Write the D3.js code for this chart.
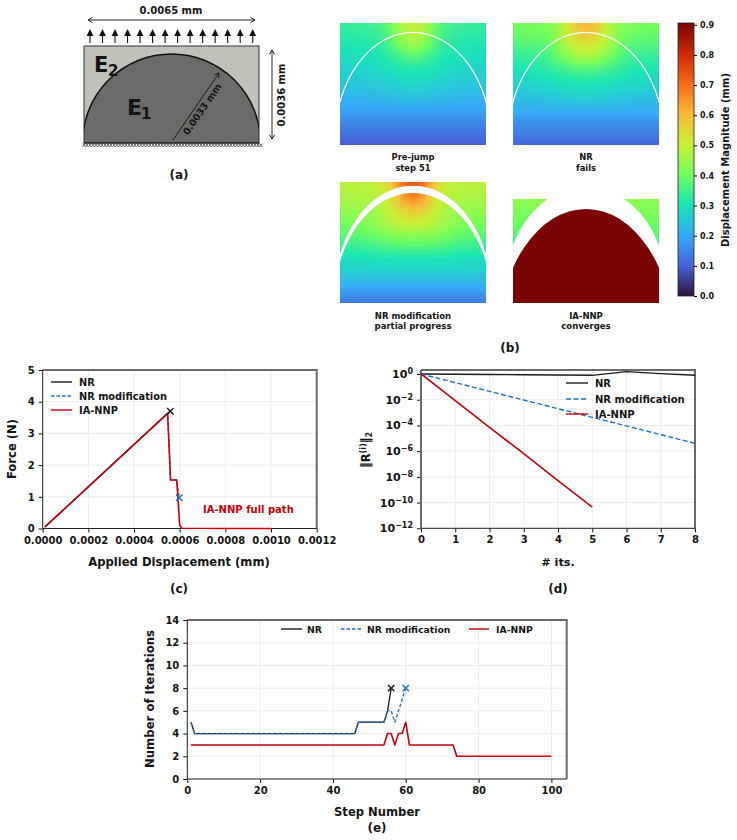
<!DOCTYPE html>
<html><head><meta charset="utf-8">
<script src="https://cdn.jsdelivr.net/npm/d3@7"></script>
<style>
html,body{margin:0;padding:0;background:#fff}
svg{display:block}
text{font-family:"DejaVu Sans",sans-serif;font-weight:700;fill:#141414}
</style></head><body>
<svg id="fig" width="737" height="840"></svg>
<script>
// Force against applied displacement (panel c)
const fdDisp  = [0.00001,0.000547,0.00056,0.000587,0.000600,0.00061,0.0010];
const fdForce = [0.05,3.63,1.53,1.53,0.10,0.01,0];
const fdNrDisp = [0.00001,0.000547,0.000559];
const fdNrForce = [0.05,3.63,3.70];
const fdModDisp = [0.00001,0.000547,0.00056,0.000587,0.000598];
const fdModForce = [0.05,3.63,1.53,1.53,0.97];
const fdNrEnd = [0.000559,3.70];
const fdModEnd = [0.000598,0.97];

// Residual norm per iteration, as log10 (panel d)
const itsNr = [0,1,2,3,4,5,6,7,8];
const resNr = [0,-0.02,-0.04,-0.06,-0.08,-0.10,0.18,0.03,-0.10];
const itsMod = [0,1,2,3,4,5,6,7,8];
const resMod = [0,-0.67,-1.35,-2.02,-2.70,-3.37,-4.04,-4.72,-5.39];
const itsIa = [0,1,2,3,4,5];
const resIa = [0,-2.07,-4.15,-6.20,-8.30,-10.36];

// Iterations per load step (panel e), listed at the steps where the count changes
const stepNr = [1,2,46,47,54,55,56];
const iterNr = [5,4,4,5,5,6,8];
const stepMod = [1,2,46,47,54,55,56,57,58,59,60];
const iterMod = [5,4,4,5,5,6,6,5,6,7,8];
const stepIa = [1,54,55,56,57,58,59,60,61,73,74,100];
const iterIa = [3,3,4,4,3,4,4,5,3,3,2,2];

// Displacement fields, sampled every 11 px downwards and 10.4 px from the centre line.
// A row with a single value is uniform across the width.
const fieldPreJump = [
 [.50,.48,.41,.36,.345,.34,.335,.335],
 [.49,.46,.39,.345,.33,.325,.32,.32],
 [.45,.42,.37,.33,.315,.31,.305,.305],
 [.38,.36,.33,.31,.30,.295,.29,.29],
 [.32,.315,.305,.295,.285,.28,.275,.275],
 [.29,.285,.28,.27,.265,.26,.26,.26],
 [.265,.26,.255,.25,.245,.24,.24,.24],
 [.235,.235,.23,.225,.22,.215,.215,.215],
 [.19],[.155],[.125],[.095]];
const fieldNrFail = [
 [.61,.58,.50,.44,.42,.415,.41,.41],
 [.58,.555,.49,.43,.40,.395,.39,.39],
 [.53,.51,.47,.41,.375,.37,.365,.36],
 [.47,.46,.42,.38,.35,.34,.335,.33],
 [.38,.375,.36,.34,.325,.315,.31,.31],
 [.325,.32,.315,.305,.295,.29,.285,.285],
 [.29,.285,.28,.275,.27,.265,.26,.26],
 [.255,.255,.25,.245,.24,.235,.235,.235],
 [.21],[.17],[.14],[.105]];
const fieldNrMod = [
 [.74,.70,.60,.52,.49,.49,.49,.49],
 [.70,.66,.55,.49,.48,.48,.47,.47],
 [.63,.60,.53,.48,.46,.46,.46,.46],
 [.55,.53,.50,.47,.445,.44,.43,.43],
 [.49,.485,.47,.45,.425,.41,.40,.40],
 [.42,.42,.415,.40,.385,.375,.37,.37],
 [.36,.36,.355,.35,.34,.335,.33,.33],
 [.30,.30,.30,.30,.295,.29,.29,.29],
 [.27],[.23],[.18],[.13]];
const fieldIaCorners = [[.435],[.42],[.40],[.38],[.355]];
const fieldIaInclusion = .906;

// Colour bar
const barTicks = [0,.1,.2,.3,.4,.5,.6,.7,.8,.9];
const barMax = .906;
const turboStops = ["#30123b","#4662d7","#36aaf9","#1ae4b6","#72fe5e","#c8ef34","#faba39","#f66b19","#cb2a04","#7a0403"];

const svg = d3.select("#fig");
const colour = d3.scaleSequential(d3.piecewise(d3.interpolateRgb,turboStops)).domain([0,barMax]);
const black="#1c1c1c", blue="#1f6fc0", red="#c8000a";

function label(g,x,y,str,size,opts={}){
  const t=g.append("text").attr("x",x).attr("y",y).attr("font-size",size)
    .attr("text-anchor",opts.anchor||"middle").text(str);
  if(opts.rotate!==undefined) t.attr("transform",`rotate(${opts.rotate},${x},${y})`);
  if(opts.fill) t.style("fill",opts.fill);
  return t;
}

/* ---------- (a) specimen sketch ---------- */
const a=svg.append("g");
const rectA={x:84,y:46,w:175,h:97};
svg.append("defs").append("clipPath").attr("id","specimen").append("rect")
  .attr("x",rectA.x).attr("y",rectA.y).attr("width",rectA.w).attr("height",rectA.h);
a.append("rect").attr("x",rectA.x).attr("y",rectA.y).attr("width",rectA.w).attr("height",rectA.h)
  .attr("fill","#c0c1b9");
a.append("circle").attr("cx",171.5).attr("cy",143).attr("r",89).attr("clip-path","url(#specimen)")
  .attr("fill","#6b6b69").attr("stroke","#111").attr("stroke-width",1.5);
a.append("rect").attr("x",rectA.x).attr("y",rectA.y).attr("width",rectA.w).attr("height",rectA.h)
  .attr("fill","none").attr("stroke","#333").attr("stroke-width",1);
a.append("line").attr("x1",84).attr("x2",259).attr("y1",143).attr("y2",143).attr("stroke","#111").attr("stroke-width",1.2);
// roller support along the bottom edge
const supportX=d3.scaleLinear().domain([0,59]).range([84,261]);
a.append("path").attr("fill","none").attr("stroke","#222").attr("stroke-width",.7)
  .attr("d",d3.range(60).map(i=>{const x=supportX(i);return `M${x-1.5},143.5L${x+1.5},147M${x-1.5},147L${x+1.5},143.5`}).join(""));
// traction arrows
const tractionX=d3.scaleLinear().domain([0,13]).range([90,252.7]);
d3.range(14).forEach(i=>{
  const x=tractionX(i);
  a.append("line").attr("x1",x).attr("x2",x).attr("y1",43).attr("y2",34).attr("stroke","#111").attr("stroke-width",1.1);
  a.append("path").attr("d",`M${x},29L${x+3.4},36L${x-3.4},36Z`).attr("fill","#111");
});
function openHead(g,x,y,ang,s=4.5){
  const r=ang*Math.PI/180, d=(u,v)=>[x+u*Math.cos(r)-v*Math.sin(r),y+u*Math.sin(r)+v*Math.cos(r)];
  const p=d(-s,-s*.6),q=d(-s,s*.6);
  g.append("path").attr("d",`M${p}L${x},${y}L${q}`).attr("fill","none").attr("stroke","#111").attr("stroke-width",.9);
}
function dim(g,x1,y1,x2,y2,both=true){
  g.append("line").attr("x1",x1).attr("y1",y1).attr("x2",x2).attr("y2",y2).attr("stroke","#111").attr("stroke-width",.9);
  const ang=Math.atan2(y2-y1,x2-x1)*180/Math.PI;
  openHead(g,x2,y2,ang);
  if(both) openHead(g,x1,y1,ang+180);
}
dim(a,88,20,255,20);
label(a,171,14,"0.0065 mm",10);
dim(a,272,50,272,139);
label(a,285,95,"0.0036 mm",10,{rotate:-90});
dim(a,173,140,219,73,false);
label(a,205,111,"0.0033 mm",9.5,{rotate:-55.5});
label(a,94,72,"E",21,{anchor:"start"});
label(a,108,76,"2",15,{anchor:"start"});
label(a,127,115,"E",22,{anchor:"start"});
label(a,141,119,"1",15,{anchor:"start"});
label(a,179,179,"(a)",12);

/* ---------- (b) displacement fields ---------- */
const b=svg.append("g");
const defs=svg.select("defs");
const cols=8, colStep=73/7, rowStep=11;
function fieldValue(grid,dx,dy){
  const rf=Math.min(dy/rowStep,grid.length-1.001), r0=Math.floor(rf), t=rf-r0;
  const at=(row)=>{
    if(row.length===1) return row[0];
    const cf=Math.min(dx/colStep,cols-1.001), c0=Math.floor(cf);
    return row[c0]+(row[c0+1]-row[c0])*(cf-c0);
  };
  return at(grid[r0])*(1-t)+at(grid[r0+1])*t;
}
function drawField(g,grid,x,y,w,h){
  const c=document.createElement("canvas"); c.width=w; c.height=h;
  const ctx=c.getContext("2d");
  for(let j=0;j<h;j++) for(let i=0;i<w;i++){
    ctx.fillStyle=colour(fieldValue(grid,Math.abs(i+.5-w/2),j+.5));
    ctx.fillRect(i,j,1,1);
  }
  g.append("image").attr("x",x).attr("y",y).attr("width",w).attr("height",h).attr("href",c.toDataURL());
}
function clip(id,x,y,w,h){
  defs.append("clipPath").attr("id",id).append("rect").attr("x",x).attr("y",y).attr("width",w).attr("height",h);
}
const cx1=413,cx2=586;
// pre-jump and NR: interface still closed, drawn as a thin white curve
[[fieldPreJump,340,cx1,"clipA"],[fieldNrFail,513,cx2,"clipB"]].forEach(([f,x,cx,id])=>{
  drawField(b,f,x,23,146,122);
  clip(id,x,23,146,122);
  b.append("ellipse").attr("cx",cx).attr("cy",32.3+108.7).attr("rx",78.3).attr("ry",108.7)
    .attr("clip-path",`url(#${id})`).attr("fill","none").attr("stroke","#fff").attr("stroke-width",1.2);
});
// NR modification: the gap opens into a white band
drawField(b,fieldNrMod,340,182,146,121);
clip("clipC",340,182,146,121);
defs.append("clipPath").attr("id","bandInner").append("ellipse").attr("cx",cx1).attr("cy",193+112).attr("rx",79).attr("ry",112);
b.append("ellipse").attr("cx",cx1).attr("cy",185.7+110.5).attr("rx",79).attr("ry",110.5).attr("clip-path","url(#clipC)").attr("fill","#fff");
const innerWrap=b.append("g").attr("clip-path","url(#clipC)").append("g").attr("clip-path","url(#bandInner)");
drawField(innerWrap,fieldNrMod,340,182,146,121);
// IA-NNP: full opening
drawField(b,fieldIaCorners,513,199,146,49);
clip("clipD",513,199,146,104);
clip("clipE",513,180,146,123);
b.append("ellipse").attr("cx",cx2).attr("cy",187+99).attr("rx",80).attr("ry",99).attr("clip-path","url(#clipE)").attr("fill","#fff");
b.append("ellipse").attr("cx",cx2).attr("cy",209+133).attr("rx",88).attr("ry",133).attr("clip-path","url(#clipD)").attr("fill",colour(fieldIaInclusion));

label(b,413,160,"Pre-jump",8.4);label(b,413,171,"step 51",8.4);
label(b,586,160,"NR",8.4);label(b,586,171,"fails",8.4);
label(b,413,319,"NR modification",8.5);label(b,413,329,"partial progress",8.5);
label(b,586,319,"IA-NNP",8.5);label(b,586,329,"converges",8.5);
label(b,510,352,"(b)",12);

// colour bar
const barScale=d3.scaleLinear().domain([0,barMax]).range([296,23]);
const barCanvas=document.createElement("canvas"); barCanvas.width=1; barCanvas.height=273;
{const ctx=barCanvas.getContext("2d");
 for(let j=0;j<273;j++){ctx.fillStyle=colour(barScale.invert(23+j+.5));ctx.fillRect(0,j,1,1);}}
b.append("image").attr("x",678).attr("y",23).attr("width",16).attr("height",273)
  .attr("preserveAspectRatio","none").attr("href",barCanvas.toDataURL());
b.append("rect").attr("x",678).attr("y",23).attr("width",16).attr("height",273).attr("fill","none").attr("stroke","#222").attr("stroke-width",.8);
const barAxis=b.append("g").attr("transform","translate(694,0)")
  .call(d3.axisRight(barScale).tickValues(barTicks).tickFormat(d3.format(".1f")).tickSize(3).tickPadding(3));
barAxis.select(".domain").remove();
barAxis.selectAll("text").attr("font-size",8);
label(b,729,160,"Displacement Magnitude (mm)",10,{rotate:-90});

/* ---------- shared plot frame ---------- */
function frame(g,xS,yS,xTicks,yTicks,opts={}){
  const [x0,x1]=xS.range(), [y0,y1]=yS.range();
  const grid=g.append("g").attr("stroke","#ececec").attr("stroke-width",1);
  xTicks.forEach(t=>grid.append("line").attr("x1",xS(t)).attr("x2",xS(t)).attr("y1",y0).attr("y2",y1));
  yTicks.forEach(t=>grid.append("line").attr("y1",yS(t)).attr("y2",yS(t)).attr("x1",x0).attr("x2",x1));
  const ax=g.append("g").attr("transform",`translate(0,${y0})`)
    .call(d3.axisBottom(xS).tickValues(xTicks).tickFormat(opts.xFmt).tickSize(4).tickPadding(4));
  const ay=g.append("g").attr("transform",`translate(${x0},0)`)
    .call(d3.axisLeft(yS).tickValues(yTicks).tickFormat(opts.yFmt||d3.format("d")).tickSize(4).tickPadding(4));
  [ax,ay].forEach(s=>{s.selectAll("text").attr("font-size",10);s.selectAll(".tick line").attr("stroke","#111");s.select(".domain").remove();});
  g.append("path").attr("d",`M${x0},${y1}H${x1}V${y0}`).attr("fill","none").attr("stroke","#6a6a6a").attr("stroke-width",2);
  g.append("line").attr("x1",x0).attr("x2",x1).attr("y1",y0).attr("y2",y0).attr("stroke","#222").attr("stroke-width",1);
  g.append("line").attr("x1",x0).attr("x2",x0).attr("y1",y0).attr("y2",y1).attr("stroke",opts.leftColour||"#222").attr("stroke-width",opts.leftWidth||1);
  return ay;
}
function series(g,xs,ys,xS,yS,col,width,dash){
  const p=g.append("path").datum(d3.zip(xs,ys)).attr("fill","none").attr("stroke",col).attr("stroke-width",width)
    .attr("stroke-linejoin","round")
    .attr("d",d3.line().x(d=>xS(d[0])).y(d=>yS(d[1])));
  if(dash) p.attr("stroke-dasharray",dash);
}
function cross(g,x,y,col){
  g.append("path").attr("d",`M${x-3.2},${y-3.2}L${x+3.2},${y+3.2}M${x-3.2},${y+3.2}L${x+3.2},${y-3.2}`)
    .attr("stroke",col).attr("stroke-width",1.5).attr("fill","none");
}
function legendEntry(g,x1,x2,y,col,dash,name,size,tx,width=1.4){
  const l=g.append("line").attr("x1",x1).attr("x2",x2).attr("y1",y).attr("y2",y).attr("stroke",col).attr("stroke-width",width);
  if(dash) l.attr("stroke-dasharray",dash);
  label(g,tx,y+3.5,name,size,{anchor:"start"});
}

/* ---------- (c) force-displacement ---------- */
const c=svg.append("g");
const xC=d3.scaleLinear().domain([0,0.0012]).range([42.7,316.7]);
const yC=d3.scaleLinear().domain([0,5]).range([528.5,370]);
frame(c,xC,yC,[0,.0002,.0004,.0006,.0008,.0010,.0012],[0,1,2,3,4,5],{xFmt:d3.format(".4f")});
series(c,fdNrDisp,fdNrForce,xC,yC,black,1.3);
series(c,fdModDisp,fdModForce,xC,yC,blue,1.3,"3.5,2");
series(c,fdDisp,fdForce,xC,yC,red,1.6);
cross(c,xC(fdNrEnd[0]),yC(fdNrEnd[1]),black);
cross(c,xC(fdModEnd[0]),yC(fdModEnd[1]),blue);
legendEntry(c,51,72,382,black,null,"NR",9.8,79);
legendEntry(c,51,72,396,blue,"3.5,2","NR modification",9.8,79);
legendEntry(c,51,72,410,red,null,"IA-NNP",9.8,79);
label(c,203,513,"IA-NNP full path",10,{anchor:"start",fill:red});
label(c,179,566,"Applied Displacement (mm)",11.6);
label(c,16,449,"Force (N)",11.6,{rotate:-90});
label(c,179,593,"(c)",12);

/* ---------- (d) convergence ---------- */
const d=svg.append("g");
const xD=d3.scaleLinear().domain([0,8]).range([421,695]);
const yD=d3.scaleLinear().domain([-12,0.31]).range([528.3,370]);
const ayD=frame(d,xD,yD,[0,1,2,3,4,5,6,7,8],[-12,-10,-8,-6,-4,-2,0],{xFmt:d3.format("d"),leftColour:"#6a6a6a",leftWidth:2});
ayD.selectAll("text").each(function(v){
  const t=d3.select(this).text(null).attr("font-size",11);
  t.append("tspan").text("10");
  t.append("tspan").attr("dy",-4).attr("font-size",8).text(v===0?"0":"\u2212"+Math.abs(v));
});
series(d,itsNr,resNr,xD,yD,black,1.3);
series(d,itsMod,resMod,xD,yD,blue,1.4,"5,2.5");
series(d,itsIa,resIa,xD,yD,red,1.6);
legendEntry(d,566,588,383,black,null,"NR",10,595);
legendEntry(d,566,588,399,blue,"5,2.5","NR modification",10,595);
legendEntry(d,566,588,414,red,null,"IA-NNP",10,595);
label(d,558,566,"# its.",11.3);
{
  const t=label(d,370,450,"",11.5,{rotate:-90});
  t.append("tspan").text("\u2016R");
  t.append("tspan").attr("dy",-4).attr("font-size",8).text("(i)");
  t.append("tspan").attr("dy",4).text("\u2016");
  t.append("tspan").attr("dy",2).attr("font-size",8).text("2");
}
label(d,558,593,"(d)",12);

/* ---------- (e) iterations per step ---------- */
const e=svg.append("g");
const xE=d3.scaleLinear().domain([0,104.2]).range([187.3,566.7]);
const yE=d3.scaleLinear().domain([0,14]).range([779,620]);
frame(e,xE,yE,[0,20,40,60,80,100],[0,2,4,6,8,10,12,14],{xFmt:d3.format("d")});
series(e,stepNr,iterNr,xE,yE,black,1.3);
series(e,stepMod,iterMod,xE,yE,blue,1.3,"3.5,2");
series(e,stepIa,iterIa,xE,yE,red,1.6);
cross(e,xE(56),yE(8),black);
cross(e,xE(60),yE(8),blue);
legendEntry(e,281,302,629,black,null,"NR",9.3,307);
legendEntry(e,341,361,629,blue,"3.5,2","NR modification",9.3,367);
legendEntry(e,469,489,629,red,null,"IA-NNP",9.3,496);
label(e,377,816,"Step Number",11.6);
label(e,154,699,"Number of Iterations",11.7,{rotate:-90});
label(e,377,832,"(e)",12);
</script>
</body></html>
